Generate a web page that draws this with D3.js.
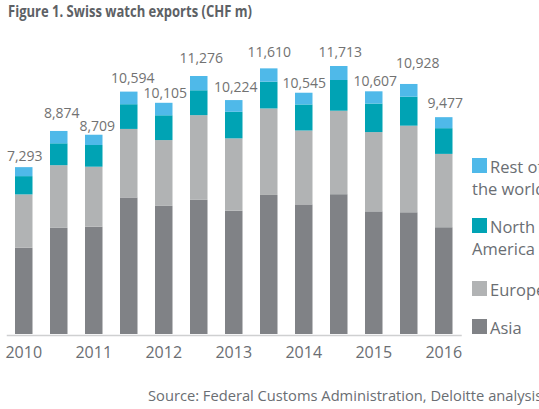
<!DOCTYPE html>
<html>
<head>
<meta charset="utf-8">
<script src="https://cdn.jsdelivr.net/npm/d3@7"></script>
<style>
  body { margin: 0; background: #fff; }
  svg { display: block; font-family: "Open Sans", sans-serif; }
</style>
</head>
<body>
<svg id="chart" width="539" height="409"></svg>
<script>
// Half-year periods, H1 2010 .. H1 2016
const periods = ["H1 2010", "H2 2010", "H1 2011", "H2 2011", "H1 2012", "H2 2012", "H1 2013",
  "H2 2013", "H1 2014", "H2 2014", "H1 2015", "H2 2015", "H1 2016"];
const yearTicks = ["H1 2010", "H1 2011", "H1 2012", "H1 2013", "H1 2014", "H1 2015", "H1 2016"];

// CHF m
const asia = [3769, 4639, 4690, 5968, 5600, 5864, 5387, 6077, 5665, 6110, 5360, 5320, 4666];
const europe = [2332, 2739, 2622, 2995, 2876, 3701, 3163, 3781, 3229, 3649, 3465, 3785, 3206];
const northAmerica = [799, 957, 948, 1080, 1083, 1088, 1162, 1170, 1139, 1342, 1248, 1268, 1124];
const restOfWorld = [393, 539, 449, 551, 546, 623, 512, 582, 512, 612, 534, 555, 481];
const totals = [7293, 8874, 8709, 10594, 10105, 11276, 10224, 11610, 10545, 11713, 10607, 10928, 9477];

const seriesKeys = ["Asia", "Europe", "North America", "Rest of the world"];
const colors = ["#808286", "#b1b3b4", "#00a3b4", "#4fb9e9"];

// hand placement of the total labels (px), as in the original layout
const labelDx = [1, 3, 3.5, 4, 1.5, 2.5, 2, 0.5, 0.5, 1.5, 1.5, 9, 1.5];
const labelGap = [6, 13, 4, 9, 5, 13, 8, 11, 5, 9, 5, 16, 9];

const rows = periods.map((p, i) => ({
  period: p,
  "Asia": asia[i],
  "Europe": europe[i],
  "North America": northAmerica[i],
  "Rest of the world": restOfWorld[i],
  total: totals[i]
}));

const svg = d3.select("#chart");

svg.append("text")
  .attr("x", 8)
  .attr("y", 17)
  .attr("font-size", 16)
  .attr("font-weight", 700)
  .attr("fill", "#5d6165")
  .attr("textLength", 244)
  .attr("lengthAdjust", "spacingAndGlyphs")
  .text("Figure 1. Swiss watch exports (CHF m)");

const x = d3.scaleBand()
  .domain(periods)
  .range([6.25, 461.25])
  .paddingInner(0.5)
  .paddingOuter(0.25);

const y = d3.scaleLinear()
  .domain([0, 12000])
  .range([334, 334 - 12000 * 0.02288]);

const color = d3.scaleOrdinal().domain(seriesKeys).range(colors);

const stacked = d3.stack().keys(seriesKeys)(rows);

svg.append("g")
  .selectAll("g")
  .data(stacked)
  .join("g")
  .attr("fill", d => color(d.key))
  .selectAll("rect")
  .data(d => d)
  .join("rect")
  .attr("x", d => x(d.data.period))
  .attr("width", x.bandwidth())
  .attr("y", d => y(d[1]))
  .attr("height", d => y(d[0]) - y(d[1]));

// total labels above each bar
svg.append("g")
  .selectAll("text")
  .data(rows)
  .join("text")
  .attr("x", (d, i) => x(d.period) + x.bandwidth() / 2 + labelDx[i])
  .attr("y", (d, i) => y(d.total) - labelGap[i])
  .attr("text-anchor", "middle")
  .attr("font-size", 14)
  .attr("fill", "#727272")
  .text(d => d3.format(",")(d.total));

// x axis: only the first half of each year gets a label
const xAxis = d3.axisBottom(x)
  .tickValues(yearTicks)
  .tickFormat(d => d.split(" ")[1])
  .tickSize(0)
  .tickPadding(9);

const axisG = svg.append("g")
  .attr("transform", "translate(0,335)")
  .call(xAxis);
axisG.select(".domain").attr("stroke", "#cfd0d1").attr("stroke-width", 1.5);
axisG.selectAll("text")
  .attr("font-family", "Open Sans, sans-serif")
  .attr("font-size", 16)
  .attr("fill", "#6a6e73")
  .attr("dy", "0.9em");

// legend, top entry first
const legendItems = [
  { key: "Rest of the world", lines: ["Rest of", "the world"], top: 158 },
  { key: "North America", lines: ["North", "America"], top: 218 },
  { key: "Europe", lines: ["Europe"], top: 281 },
  { key: "Asia", lines: ["Asia"], top: 319 }
];

const legend = svg.append("g");
legendItems.forEach(item => {
  legend.append("rect")
    .attr("x", 472)
    .attr("y", item.top)
    .attr("width", 15)
    .attr("height", 15)
    .attr("fill", color(item.key));
  item.lines.forEach((line, i) => {
    legend.append("text")
      .attr("x", i === 0 ? 490 : 472)
      .attr("y", item.top + 15 + i * 22)
      .attr("font-size", 16.5)
      .attr("fill", "#6a6e73")
      .text(line);
  });
});

svg.append("text")
  .attr("x", 148)
  .attr("y", 401)
  .attr("font-size", 14.7)
  .attr("fill", "#6a6e73")
  .text("Source: Federal Customs Administration, Deloitte analysis");
</script>
</body>
</html>
